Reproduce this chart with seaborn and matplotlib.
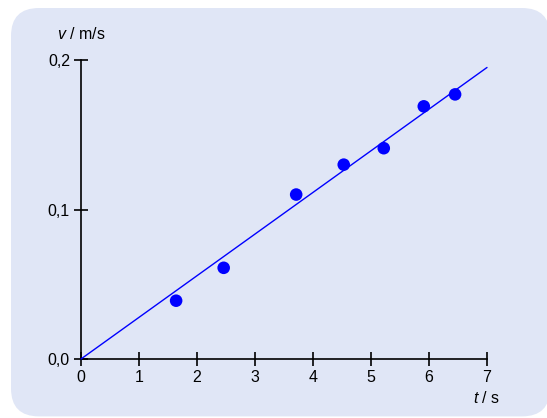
import matplotlib
matplotlib.use("Agg")
import matplotlib.pyplot as plt
from matplotlib.patches import FancyBboxPatch
import seaborn as sns
import pandas as pd

# data
t_values = [1.64, 2.46, 3.71, 4.53, 5.22, 5.91, 6.45]
v_values = [0.039, 0.061, 0.110, 0.130, 0.141, 0.169, 0.177]
fit_t = [0.0, 7.0]
fit_v = [0.0, 0.195]
x_ticks = [0, 1, 2, 3, 4, 5, 6, 7]
x_tick_labels = ["0", "1", "2", "3", "4", "5", "6", "7"]
y_ticks = [0.0, 0.1, 0.2]
y_tick_labels = ["0,0", "0,1", "0,2"]

sns.set_theme(style="white")
plt.rcParams['font.family'] = ['Liberation Sans', 'DejaVu Sans']
plt.rcParams['mathtext.fontset'] = 'custom'
plt.rcParams['mathtext.rm'] = 'Liberation Sans'
plt.rcParams['mathtext.it'] = 'Liberation Sans:italic'

W, H = 547, 418
fig = plt.figure(figsize=(W / 100, H / 100), dpi=100, facecolor="white")

# rounded background panel (pixel coordinates)
bg = fig.add_axes([0, 0, 1, 1], zorder=0)
bg.set_xlim(0, W)
bg.set_ylim(0, H)
bg.axis("off")
bg.add_patch(FancyBboxPatch((11, 1.6), 539, 408.4,
                            boxstyle="round,pad=0,rounding_size=28",
                            facecolor="#E0E6F6", edgecolor="none"))

ax = fig.add_axes([81 / W, (H - 359) / H, (487 - 81) / W, (359 - 60) / H], zorder=5)
ax.set_facecolor("none")

pts = pd.DataFrame({"t": t_values, "v": v_values})
fit = pd.DataFrame({"t": fit_t, "v": fit_v})

sns.lineplot(data=fit, x="t", y="v", ax=ax, color="#0000FF", linewidth=1.0,
             clip_on=False, zorder=3)
sns.scatterplot(data=pts, x="t", y="v", ax=ax, color="#0000FF", s=82,
                edgecolor="none", zorder=4, clip_on=False)

ax.set_xlim(0, 7)
ax.set_ylim(0, 0.2)
ax.set_xticks(x_ticks)
ax.set_xticklabels(x_tick_labels)
ax.set_yticks(y_ticks)
ax.set_yticklabels(y_tick_labels)
ax.set_xlabel("")
ax.set_ylabel("")

for s in ["top", "right"]:
    ax.spines[s].set_visible(False)
for s in ["left", "bottom"]:
    ax.spines[s].set_color("black")
    ax.spines[s].set_linewidth(1.2)
    ax.spines[s].set_zorder(2)

FS = 11.5
ax.tick_params(axis="both", which="major", direction="inout", length=10,
               width=1.2, color="black", labelsize=FS, labelcolor="black")
ax.tick_params(axis="x", pad=3)
ax.tick_params(axis="y", pad=3)
ax.tick_params(bottom=True, left=True)

ax.text(0, 1.0686, "$v$ / m/s", transform=ax.transAxes, ha="center",
        va="baseline", fontsize=FS, color="black")
ax.text(1.0, -0.147, "$t$ / s", transform=ax.transAxes, ha="center",
        va="baseline", fontsize=FS, color="black")

fig.savefig("out.png", dpi=100, facecolor="white")
